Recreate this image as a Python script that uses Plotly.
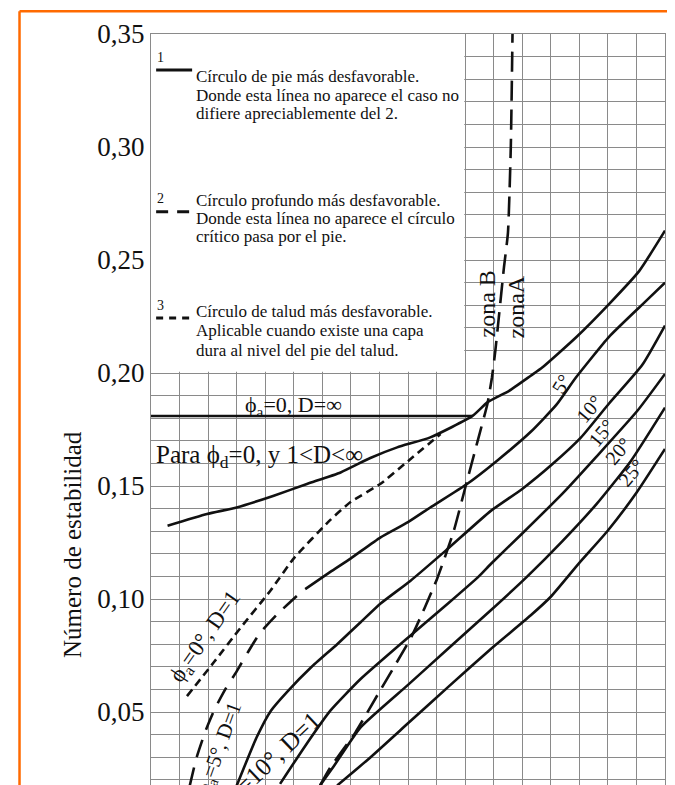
import plotly.graph_objects as go

# slope angle (deg) vs stability number
phi0_inf_x = [0, 56.3]
phi0_inf_y = [0.181, 0.181]

phi0_toe_x = [2.9, 9.8, 15, 21.5, 27.3, 33.2, 38.4, 43.1, 48.9, 56.3, 58.9, 62.7, 66.5, 68.5, 74.4, 80.2, 85.5, 90]
phi0_toe_y = [0.1324, 0.1376, 0.1405, 0.1457, 0.1509, 0.156, 0.1624, 0.1671, 0.1715, 0.181, 0.187, 0.1921,
              0.1988, 0.2024, 0.2157, 0.2305, 0.2452, 0.263]

phi0_d1_x = [6.3, 11, 15.6, 21, 25, 31.4, 35, 40.2, 45, 50.7]
phi0_d1_y = [0.057, 0.072, 0.087, 0.104, 0.118, 0.135, 0.143, 0.151, 0.161, 0.173]

phi5_d1_x = [6.8, 8, 9.6, 11.1, 13, 15, 17.1, 19.1, 22, 25.6, 27]
phi5_d1_y = [0.0176, 0.030, 0.042, 0.051, 0.060, 0.068, 0.077, 0.085, 0.093, 0.1015, 0.1044]

phi5_x = [27, 31.4, 35, 40.2, 45, 48.9, 55.4, 60.6, 66.5, 71, 74.4, 80.2, 86.1, 90]
phi5_y = [0.1044, 0.112, 0.118, 0.1273, 0.134, 0.1405, 0.151, 0.1612, 0.174, 0.186, 0.198, 0.216, 0.2305, 0.240]

phi10_x = [15, 18.5, 21, 24, 28, 32.6, 36.7, 40.2, 45.4, 51.6, 59.5, 65, 70.3, 75.3, 80.2, 86, 90]
phi10_y = [0.0174, 0.0388, 0.0506, 0.0594, 0.0697, 0.080, 0.0897, 0.098, 0.108, 0.1214, 0.139, 0.1487,
           0.1597, 0.1715, 0.1865, 0.2035, 0.221]

phi15_x = [22.6, 27, 31.4, 36.7, 45.5, 52, 57.4, 59.5, 65, 72, 78, 85.2, 90]
phi15_y = [0.0182, 0.035, 0.0506, 0.0646, 0.084, 0.098, 0.110, 0.1155, 0.129, 0.1465, 0.163, 0.1834, 0.1996]

phi20_x = [29.6, 32, 36.7, 45, 52, 59.5, 65.9, 72, 78, 84, 90]
phi20_y = [0.0175, 0.026, 0.0432, 0.062, 0.078, 0.095, 0.110, 0.1255, 0.142, 0.161, 0.1847]

phi25_x = [32.6, 38, 45, 52, 59.5, 66.5, 70, 75, 79.9, 85, 90]
phi25_y = [0.0175, 0.029, 0.045, 0.061, 0.0779, 0.0928, 0.101, 0.116, 0.130, 0.147, 0.1664]

zone_x = [29.6, 31.4, 35.8, 40, 45.7, 50.1, 53, 55.1, 57.2, 58.9, 59.7, 60.3, 60.9, 61.8, 62.5, 63, 63.3]
zone_y = [0.0175, 0.0255, 0.041, 0.059, 0.0838, 0.109, 0.130, 0.150, 0.170, 0.1863, 0.198, 0.210, 0.2246,
          0.2467, 0.262, 0.30, 0.35]

tick_vals = [0.05, 0.10, 0.15, 0.20, 0.25, 0.30, 0.35]
tick_text = ["0,05", "0,10", "0,15", "0,20", "0,25", "0,30", "0,35"]

legend_lines = [
    ["Círculo de pie más desfavorable.",
     "Donde esta línea no aparece el caso no",
     "difiere apreciablemente del 2."],
    ["Círculo profundo más desfavorable.",
     "Donde esta línea no aparece el círculo",
     "crítico pasa por el pie."],
    ["Círculo de talud más desfavorable.",
     "Aplicable cuando existe una capa",
     "dura al nivel del pie del talud."],
]

FONT = "Liberation Serif, Times New Roman, serif"
INK = "#111111"
GRID = "#8a8a8a"
SOLID = dict(color=INK, width=2.6)
LONG = dict(color=INK, width=2.6, dash="20px,9px")
SHORT = dict(color=INK, width=2.6, dash="8px,5px")

fig = go.Figure()


def add_curve(x, y, line):
    fig.add_trace(go.Scatter(x=x, y=y, mode="lines", line=dict(shape="spline", smoothing=0.5, **line),
                             hoverinfo="skip", showlegend=False))


add_curve(phi0_inf_x, phi0_inf_y, SOLID)
add_curve(phi0_toe_x, phi0_toe_y, SOLID)
add_curve(phi0_d1_x, phi0_d1_y, SHORT)
add_curve(phi5_d1_x, phi5_d1_y, dict(LONG, dash="18px,11px"))
add_curve(phi5_x, phi5_y, SOLID)
add_curve(phi10_x, phi10_y, SOLID)
add_curve(phi15_x, phi15_y, SOLID)
add_curve(phi20_x, phi20_y, SOLID)
add_curve(phi25_x, phi25_y, SOLID)
add_curve(zone_x, zone_y, LONG)

# white box for the legend text (no grid there)
fig.add_shape(type="rect", xref="x", yref="y", x0=0, x1=54.85, y0=0.2006, y1=0.35,
              fillcolor="white", line_width=0, layer="between")

# legend samples
fig.add_shape(type="line", xref="x", yref="y", x0=0.9, x1=7.2, y0=0.3341, y1=0.3341,
              line=dict(color=INK, width=3))
fig.add_shape(type="line", xref="x", yref="y", x0=0.9, x1=7.2, y0=0.2714, y1=0.2714,
              line=dict(color=INK, width=3, dash="12px,9px"))
fig.add_shape(type="line", xref="x", yref="y", x0=0.9, x1=7.2, y0=0.2243, y1=0.2243,
              line=dict(color=INK, width=3, dash="7px,6px"))

for num, ypos in zip(["1", "2", "3"], [0.3394, 0.2770, 0.2300]):
    fig.add_annotation(x=1.6, y=ypos, xref="x", yref="y", text=num, showarrow=False,
                       font=dict(family=FONT, size=14, color=INK))

legend_y = [[0.3311, 0.3230, 0.3149], [0.2765, 0.2684, 0.2602], [0.2271, 0.2190, 0.2101]]
for block, ys in zip(legend_lines, legend_y):
    for txt, ypos in zip(block, ys):
        fig.add_annotation(x=7.55, y=ypos, xref="x", yref="y", text=txt, showarrow=False,
                           xanchor="left", yanchor="middle", font=dict(family=FONT, size=17, color=INK))

# curve labels
labels = [
    ("ϕ<sub>a</sub>=0, D=∞", 25.0, 0.1855, 0, 22),
    ("Para ϕ<sub>d</sub>=0, y 1<D<∞", 19.0, 0.1630, 0, 25),
    ("ϕ<sub>a</sub>=0°, D=1", 9.6, 0.0832, -55, 23),
    ("ϕ<sub>a</sub>=5°, D=1", 12.0, 0.0335, -70, 21),
    ("ϕ<sub>a</sub>=10°, D=1", 21.1, 0.0280, -43.5, 25),
    ("zona B", 58.8, 0.2307, -90, 24),
    ("zonaA", 63.9, 0.2294, -90, 24),
    ("5°", 71.8, 0.1953, -58, 20),
    ("10°", 76.7, 0.1842, -50, 20),
    ("15°", 78.8, 0.1736, -50, 20),
    ("20°", 81.8, 0.1656, -50, 20),
    ("25°", 84.0, 0.1559, -50, 20),
]
for txt, lx, ly, ang, sz in labels:
    fig.add_annotation(x=lx, y=ly, xref="x", yref="y", text=txt, showarrow=False, textangle=ang,
                       font=dict(family=FONT, size=sz, color=INK))

# y axis title
fig.add_annotation(x=-0.1537, y=0.3209, xref="paper", yref="paper", text="Número de estabilidad",
                   showarrow=False, textangle=-90, xanchor="center", yanchor="middle",
                   font=dict(family=FONT, size=25, color=INK))

# orange frame of the page
ORANGE = "#ff6a00"
fig.add_shape(type="line", xref="paper", yref="paper", x0=-0.2558, x1=1.03, y0=1.0302, y1=1.0302,
              line=dict(color=ORANGE, width=2.5))
fig.add_shape(type="line", xref="paper", yref="paper", x0=-0.2558, x1=-0.2558, y0=1.0302, y1=-0.02,
              line=dict(color=ORANGE, width=2.5))

fig.update_xaxes(range=[0, 90], dtick=5, tick0=0, showgrid=True, gridcolor=GRID, gridwidth=1,
                 zeroline=False, showticklabels=False, ticks="", side="top",
                 showline=True, linecolor=GRID, linewidth=1, mirror=False)
fig.update_yaxes(range=[0.0177, 0.35], tick0=0, showgrid=True, gridcolor=GRID, gridwidth=1,
                 zeroline=False, ticks="", tickmode="array", tickvals=tick_vals, ticktext=tick_text,
                 ticklabelstandoff=0, tickfont=dict(family=FONT, size=27, color=INK),
                 showline=True, linecolor=GRID, linewidth=1, mirror=True)
# grid every 0.01 (tick labels only every 0.05)
fig.update_yaxes(minor=dict(dtick=0.01, tick0=0, showgrid=True, gridcolor=GRID, gridwidth=1))

# the page body has an 8 px margin, so the figure is 8 px smaller than the window
fig.update_layout(
    width=667, height=777,
    margin=dict(l=143, r=10, t=26, b=0),
    paper_bgcolor="white", plot_bgcolor="white",
    showlegend=False,
)

fig.write_html("out.html")
